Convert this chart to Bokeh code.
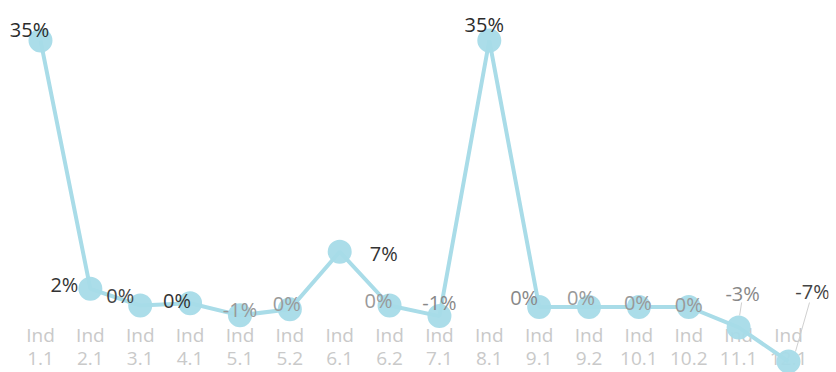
from bokeh.plotting import figure
from bokeh.models import ColumnDataSource, FactorRange, Range1d
from bokeh.core.properties import value
from bokeh.embed import file_html
from bokeh.resources import INLINE

# ---------------- data ----------------
codes = ["1.1", "2.1", "3.1", "4.1", "5.1", "5.2", "6.1", "6.2",
         "7.1", "8.1", "9.1", "9.2", "10.1", "10.2", "11.1", "12.1"]
categories = ["Ind " + c for c in codes]
values = [35.0, 2.2, 0.0, 0.3, -1.3, -0.5, 7.1, 0.0,
          -1.4, 35.0, -0.2, -0.2, -0.2, -0.2, -2.9, -7.4]
tick_top = ["Ind"] * len(codes)
tick_bottom = codes
labels = ["%d%%" % round(v) for v in values]

# ---------------- style ----------------
W, H = 836, 372
FONT = value("Open Sans")
LINE_COL = "#a9dce8"
DOT_COL = "#a6dbe8"
# screen-pixel offsets of the data labels from their points (down = +)
label_dx = [-11, -26, -20, -13, 0, -3, 44, -11, 0, -5, -15, -8, -1, 0, 4, 24]
label_dy = [-11, -4, -10, -3, -6, -6, 2, -5, -14, -16, -10, -10, -5, -3, -34, -70]
label_col = ["#2b2b2b", "#333333", "#444444", "#333333", "#999999", "#9a9a9a",
             "#333333", "#999999", "#888888", "#2b2b2b", "#888888", "#999999",
             "#999999", "#999999", "#888888", "#444444"]

y_lo, y_hi = -8.85, 40.28
px_per_unit_y = H / (y_hi - y_lo)
pad = 0.302
px_per_cat = (W - 8) / (len(categories) + 2 * pad)

p = figure(width=W, height=H, output_backend="svg", toolbar_location=None,
           x_range=FactorRange(factors=categories, range_padding=pad,
                               range_padding_units="absolute"),
           y_range=Range1d(y_lo, y_hi),
           x_axis_location=None, y_axis_location=None,
           min_border_left=0, min_border_right=8,
           min_border_top=0, min_border_bottom=0)
p.outline_line_color = None
p.xgrid.visible = False
p.ygrid.visible = False
p.background_fill_color = "white"
p.border_fill_color = "white"

src = ColumnDataSource(dict(cat=categories, val=values, lab=labels,
                            dx=label_dx, dy=label_dy, col=label_col,
                            top=tick_top, bot=tick_bottom,
                            zero=[0.0] * len(values)))

# category tick labels (drawn behind the markers)
p.text(x="cat", y="zero", text="top", source=src, text_font=FONT,
       text_font_size="19px", text_color="#c9c9c9", text_align="center",
       text_baseline="middle", y_offset=30)
p.text(x="cat", y="zero", text="bot", source=src, text_font=FONT,
       text_font_size="19px", text_color="#c9c9c9", text_align="center",
       text_baseline="middle", y_offset=53)

# leader lines for the two last labels
lead_i = [14, 15]
lead_from = [(3, -25), (21, -59)]
lead_to = [(1, -12), (7, -10)]
p.segment(x0=[(categories[i], f[0] / px_per_cat) for i, f in zip(lead_i, lead_from)],
          y0=[values[i] - f[1] / px_per_unit_y for i, f in zip(lead_i, lead_from)],
          x1=[(categories[i], t[0] / px_per_cat) for i, t in zip(lead_i, lead_to)],
          y1=[values[i] - t[1] / px_per_unit_y for i, t in zip(lead_i, lead_to)],
          line_color="#d0d0d0", line_width=1)

p.line(x="cat", y="val", source=src, line_color=LINE_COL, line_width=4)
p.scatter(x="cat", y="val", source=src, size=24, fill_color=DOT_COL,
          line_color=None, fill_alpha=0.95)

p.text(x="cat", y="val", text="lab", source=src, text_font=FONT,
       text_font_size="20px", text_color="col", text_align="center",
       text_baseline="middle", x_offset="dx", y_offset="dy")

open("out.html", "w").write(file_html(p, INLINE))
